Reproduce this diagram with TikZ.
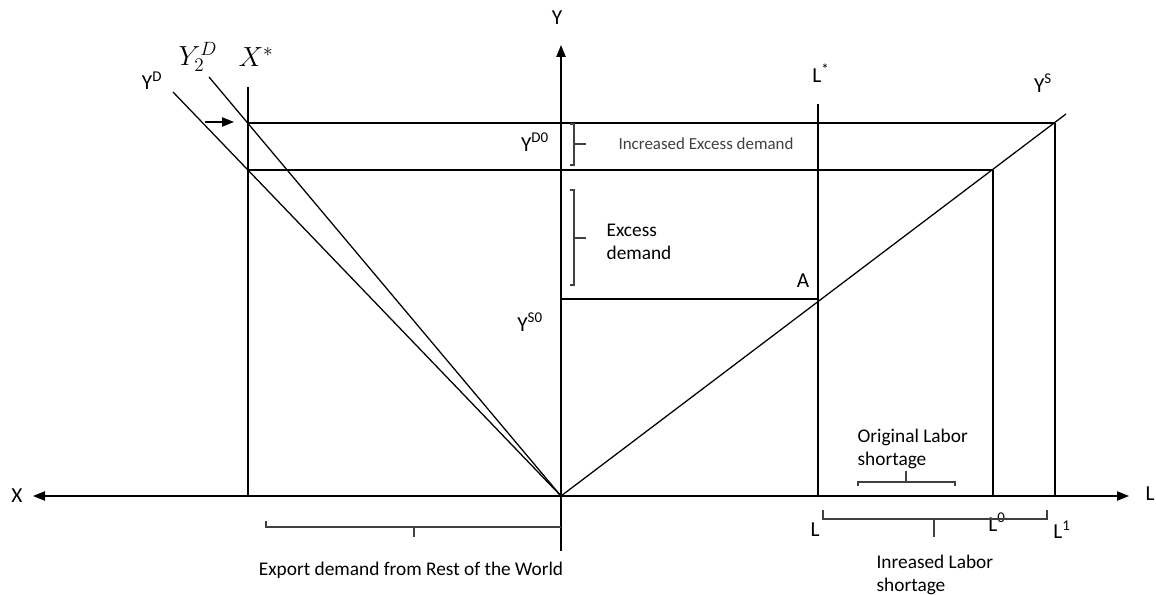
\documentclass[tikz,border=0pt]{standalone}
\usepackage{fontspec}
\setmainfont{Carlito}
\usepackage{amsmath}
\usetikzlibrary{arrows.meta,positioning}

\begin{document}
\begin{tikzpicture}[
  x=0.75pt, y=-0.75pt,
  tip/.style={-{Triangle[length=9pt,width=7pt]}},
  line/.style={line width=0.95pt},
  bracket/.style={line width=0.8pt, black!75},
  lab/.style={font=\fontsize{16}{18}\selectfont, inner sep=1pt},
  mathlab/.style={font=\fontsize{20}{22}\selectfont, inner sep=1pt},
  note/.style={font=\fontsize{14.5}{17.5}\selectfont, align=left, inner sep=1pt},
  small note/.style={font=\fontsize{12.7}{15}\selectfont, text=black!75, inner sep=1pt}
]
  \useasboundingbox (0,0) rectangle (1156,595);

  % points of the diagram
  \coordinate (O)     at (561,496);
  \coordinate (Xend)  at (33,496);
  \coordinate (Lend)  at (1129,496);
  \coordinate (Ybot)  at (561,551);
  \coordinate (Ytop)  at (561,45);
  \coordinate (YD)    at (173,92);
  \coordinate (YDtwo) at (209,77);
  \coordinate (YS)    at (1066,114);
  \coordinate (Xsa)   at (248,87);
  \coordinate (Xsb)   at (248,496);
  \coordinate (Lsa)   at (818,104);
  \coordinate (Lsb)   at (818,496);
  \coordinate (Lzero) at (993,170);
  \coordinate (Lzb)   at (993,496);
  \coordinate (Lone)  at (1055,123);
  \coordinate (Lob)   at (1055,496);
  \coordinate (P1)    at (248,123);
  \coordinate (P2)    at (248,170);
  \coordinate (Yso)   at (561,299);
  \coordinate (A)     at (818,299);
  \coordinate (ArrA)  at (205,122);
  \coordinate (ArrB)  at (234,122);

  % axes
  \draw[line, tip] (O) -- (Xend);
  \draw[line, tip] (O) -- (Lend);
  \draw[line, tip] (Ybot) -- (Ytop);
  \node[lab] (xlab) at (17,496)   {X};
  \node[lab] (llab) at (1150,494) {L};
  \node[lab] (ylab) at (557,18)   {Y};

  % demand and supply curves
  \draw[line] (O) -- (YD);
  \draw[line] (O) -- (YDtwo);
  \draw[line] (O) -- (YS);
  \draw[line, tip] (ArrA) -- (ArrB);

  % verticals and horizontals
  \draw[line] (Xsa) -- (Xsb);
  \draw[line] (Lsa) -- (Lsb);
  \draw[line] (Lzero) -- (Lzb);
  \draw[line] (Lone) -- (Lob);
  \draw[line] (P1) -- (Lone);
  \draw[line] (P2) -- (Lzero);
  \draw[line] (Yso) -- (A);

  % curve and level labels
  \node[lab] (ydlab)  at (152,81)  {Y\textsuperscript{D}};
  \node[mathlab] (yd2lab) at (198,57) {$Y_2^D$};
  \node[mathlab] (xslab)  at (256,57) {$X^*$};
  \node[lab] (lslab)  at (821,73)  {L\textsuperscript{*}};
  \node[lab] (yslab)  at (1043,83) {Y\textsuperscript{S}};
  \node[lab] (ydolab) at (535,142) {Y\textsuperscript{D0}};
  \node[lab] (ysolab) at (530,322) {Y\textsuperscript{S0}};
  \node[lab] (alab)   at (803,281) {A};
  \node[lab] (l1lab)  at (815,530) {L};
  \node[lab] (l0lab)  at (997,522) {L\textsuperscript{0}};
  \node[lab] (l2lab)  at (1062,530) {L\textsuperscript{1}};

  % brackets
  \draw[bracket] (570,124) -- (574,124) -- (574,165) -- (570,165);
  \draw[bracket] (574,144) -- (586,144);
  \draw[bracket] (570,190) -- (574,190) -- (574,285) -- (570,285);
  \draw[bracket] (574,238) -- (586,238);
  \draw[bracket] (858,486) -- (858,482) -- (955,482) -- (955,486);
  \draw[bracket] (906,482) -- (906,471);
  \draw[bracket] (823,510) -- (823,519) -- (1047,519) -- (1047,510);
  \draw[bracket] (934,519) -- (934,537);
  \draw[bracket] (266,521) -- (266,527) -- (561,527);
  \draw[bracket] (414,527) -- (414,537);

  \node[small note] (ied) at (706,144) {Increased Excess demand};
  \node[note, anchor=west] (ed)  at (605,242) {Excess\\demand};
  \node[note, anchor=west] (ols) at (856,449) {Original Labor\\shortage};
  \node[note, anchor=west] (ils) at (875,575) {Inreased Labor\\shortage};
  \node[note] (exp) at (411,570) {Export demand from Rest of the World};
\end{tikzpicture}
\end{document}
